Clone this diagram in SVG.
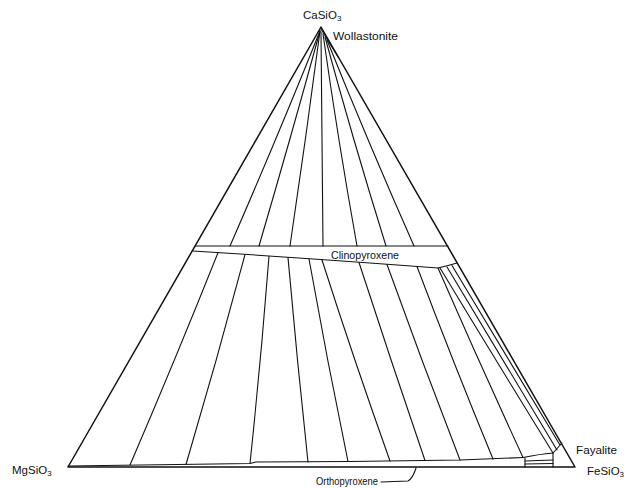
<svg xmlns="http://www.w3.org/2000/svg" width="632" height="488" viewBox="0 0 632 488">
<style>
.ln{fill:none;stroke:#111;stroke-width:1.1;stroke-linejoin:round;stroke-linecap:round}
.ed{fill:none;stroke:#111;stroke-width:1.5;stroke-linejoin:round}
.t{font-family:"Liberation Sans",Arial,sans-serif;font-size:11.5px;fill:#111}
.s{font-size:8px}
</style>
<rect width="632" height="488" fill="#fff"/>
<g id="triangle">
<path class="ed" d="M321,27 L68,467 L575,467 Z"/>
</g>
<g id="wollastonite-field">
<path class="ln" d="M321,29 L338,57"/>
</g>
<g id="clinopyroxene-band">
<path class="ln" d="M195,246 L448,246"/>
<path class="ln" d="M193,251 Q320,259 438,268 Q447,266 457,263"/>
</g>
<g id="orthopyroxene-band">
<path class="ln" d="M68,466 L250,463.5 L256,462 L350,461.5 L460,460 L523,457.5"/>
<path class="ln" d="M525,458 L525,467"/>
</g>
<g id="fayalite-field">
<path class="ln" d="M562,443 L553,453 L553,467"/>
<path class="ln" d="M523,457.5 Q540,454 553,453"/>
<path class="ln" d="M525,461 L553,460"/>
<path class="ln" d="M525,464 L553,463.5"/>
</g>
<g id="connectors">
<path class="ln" d="M320,31 Q278,136 230,246"/>
<path class="ln" d="M320,31 Q291,137 259,246"/>
<path class="ln" d="M320,31 Q306,138 290,246"/>
<path class="ln" d="M321,32 Q322,139 323,246"/>
<path class="ln" d="M323,34 Q338,140 357,246"/>
<path class="ln" d="M325,37 Q353,140 386,246"/>
<path class="ln" d="M327,40 Q368,142 414,246"/>
<path class="ln" d="M218,252.7 Q176,358 130,465"/>
<path class="ln" d="M245,254.6 Q217,360 186,464.5"/>
<path class="ln" d="M269,256.3 Q261,360 250,463.5"/>
<path class="ln" d="M288,257.6 Q297,360 308,462"/>
<path class="ln" d="M309,259 Q327,360 348,461.5"/>
<path class="ln" d="M322,260 Q354,360 390,461"/>
<path class="ln" d="M359,262.5 Q391,361 425,460.5"/>
<path class="ln" d="M387,264.5 Q422,362 460,460"/>
<path class="ln" d="M417,266.5 Q453,362 493,459"/>
<path class="ln" d="M438,268 Q479,362 523,457.5"/>
<path class="ln" d="M440,268 Q495,359 553,453"/>
<path class="ln" d="M447,267 Q501,357 557,450"/>
<path class="ln" d="M452,265.5 Q505,354 560,445"/>
<path class="ln" d="M381,482 L408,481 Q413,478 416,468"/>
</g>
<g id="labels">
<text class="t" x="303" y="19">CaSiO<tspan class="s" dy="2">3</tspan></text>
<text class="t" x="333" y="40" textLength="65" lengthAdjust="spacingAndGlyphs">Wollastonite</text>
<text class="t" x="331" y="259" textLength="68" lengthAdjust="spacingAndGlyphs">Clinopyroxene</text>
<text class="t" x="12" y="474">MgSiO<tspan class="s" dy="2">3</tspan></text>
<text class="t" x="576" y="454" textLength="41" lengthAdjust="spacingAndGlyphs">Fayalite</text>
<text class="t" x="587" y="475">FeSiO<tspan class="s" dy="2">3</tspan></text>
<text class="t" x="316" y="485" textLength="62" lengthAdjust="spacingAndGlyphs">Orthopyroxene</text>
</g>
</svg>
